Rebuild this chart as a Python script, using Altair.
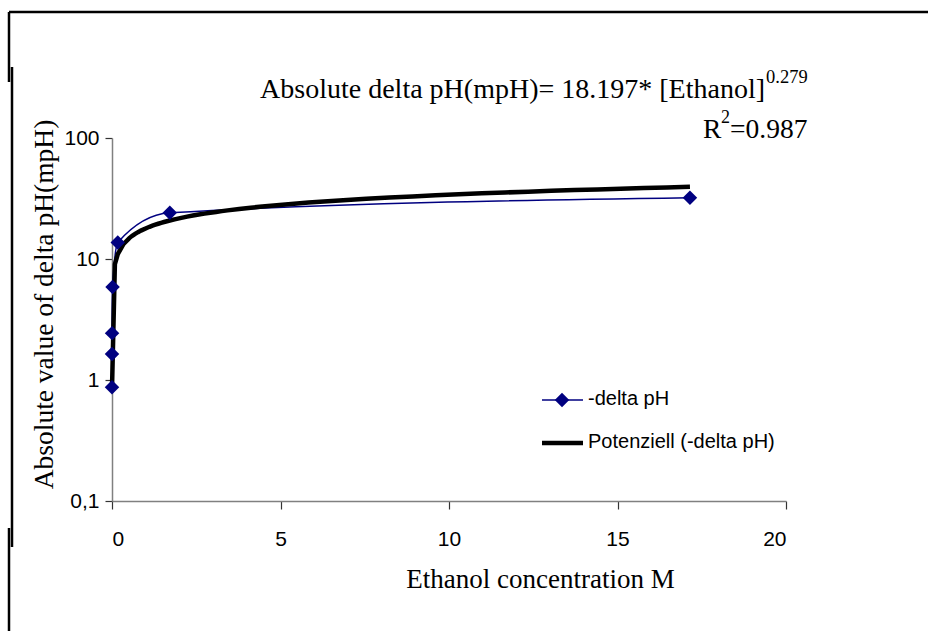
import altair as alt
import pandas as pd

# Data (dilution series of pure ethanol, 17.15 M)
conc = [0.00001715, 0.0001715, 0.001715, 0.01715, 0.1715, 1.715, 17.15]
delta_ph = [0.87, 1.64, 2.44, 5.87, 13.7, 24.1, 32.1]

x_ticks = [0, 5, 10, 15, 20]
y_ticks = [0.1, 1, 10, 100]
legend_labels = ["-delta pH", "Potenziell (-delta pH)"]

df = pd.DataFrame({"conc": conc, "delta": delta_ph})
one = pd.DataFrame({"k": [0]})

SERIF = "Times New Roman, Liberation Serif, serif"
SANS = "Arial, Liberation Sans, sans-serif"
NAVY = "#000080"

W, H = 674, 363

xenc = alt.X(
    "conc:Q",
    scale=alt.Scale(domain=[0, 20], nice=False),
    axis=alt.Axis(
        values=x_ticks, title="Ethanol concentration M", grid=False,
        titleFont=SERIF, titleFontSize=27, titleFontWeight="normal",
        titleX=428, titleY=86, titleBaseline="alphabetic", titleAnchor="middle",
        labelFont=SANS, labelFontSize=21, labelPadding=19,
        tickSize=8, labelColor="black", titleColor="black",
    ),
)
yenc = alt.Y(
    "delta:Q",
    scale=alt.Scale(type="log", domain=[0.1, 100], nice=False),
    axis=alt.Axis(
        values=y_ticks, title="Absolute value of delta pH(mpH)", grid=False,
        labelExpr="replace(format(datum.value, '~g'), '.', ',')",
        titleFont=SERIF, titleFontSize=27.5, titleFontWeight="normal",
        titleX=-60, titleY=166, titleAngle=-90, titleBaseline="alphabetic",
        titleAlign="center",
        labelFont=SANS, labelFontSize=21, labelPadding=6,
        tickSize=7, labelColor="black", titleColor="black",
    ),
)

base = alt.Chart(df)

blue_line = base.mark_line(
    color=NAVY, strokeWidth=1.5, interpolate="monotone"
).encode(x=xenc, y=yenc)

trend = base.transform_regression(
    "conc", "delta", method="pow"
).mark_line(color="black", strokeWidth=4.5).encode(
    x=alt.X("conc:Q"), y=alt.Y("delta:Q")
)

points = base.mark_point(
    shape="diamond", filled=True, size=210, color=NAVY, opacity=1
).encode(x=alt.X("conc:Q"), y=alt.Y("delta:Q"))

deco = alt.Chart(one)

def text(t, x, y, size, font, align="left"):
    return deco.mark_text(
        text=t, font=font, fontSize=size, align=align, baseline="alphabetic",
        color="black",
    ).encode(x=alt.value(x), y=alt.value(y))

eq_main = text("Absolute delta pH(mpH)= 18.197* [Ethanol]", 653, -40, 28, SERIF, "right")
eq_sup = text("0.279", 654, -55, 18.5, SERIF)
r_main = text("R", 591, 0, 27.5, SERIF)
r_sup = text("2", 609, -15, 18, SERIF)
r_rest = text("=0.987", 618, 0, 27.5, SERIF)

# legend
leg_blue = deco.mark_rule(color=NAVY, strokeWidth=1.5).encode(
    x=alt.value(430), x2=alt.value(471), y=alt.value(262))
leg_dia = deco.mark_point(shape="diamond", filled=True, size=210, color=NAVY, opacity=1).encode(
    x=alt.value(450), y=alt.value(262))
leg_black = deco.mark_rule(color="black", strokeWidth=4.5).encode(
    x=alt.value(430), x2=alt.value(471), y=alt.value(305))
leg_t1 = text(legend_labels[0], 476, 267, 20, SANS)
leg_t2 = text(legend_labels[1], 476, 310, 20, SANS)

# page frame (outside the plot area)
frame_top = deco.mark_rule(color="black", strokeWidth=2.5).encode(
    x=alt.value(-103), x2=alt.value(820), y=alt.value(-126))
frame_l1 = deco.mark_rule(color="black", strokeWidth=2.5).encode(
    x=alt.value(-103), y=alt.value(-126), y2=alt.value(-56))
frame_l2 = deco.mark_rule(color="black", strokeWidth=2.5).encode(
    x=alt.value(-100), y=alt.value(-71), y2=alt.value(409))
frame_l3 = deco.mark_rule(color="black", strokeWidth=2.5).encode(
    x=alt.value(-103), y=alt.value(390), y2=alt.value(500))

chart = alt.layer(
    blue_line, trend, points,
    eq_main, eq_sup, r_main, r_sup, r_rest,
    leg_blue, leg_dia, leg_black, leg_t1, leg_t2,
    frame_top, frame_l1, frame_l2, frame_l3,
).properties(
    width=W, height=H,
    autosize=alt.AutoSizeParams(type="none"),
    padding={"left": 112, "top": 138, "right": 142, "bottom": 130},
    background="white",
).configure_view(stroke=None).configure_axis(
    domainColor="#808080", domainWidth=1.5, tickColor="#333333", tickWidth=1.2,
)

chart.save("out.html", embed_options={"renderer": "svg", "actions": False})
